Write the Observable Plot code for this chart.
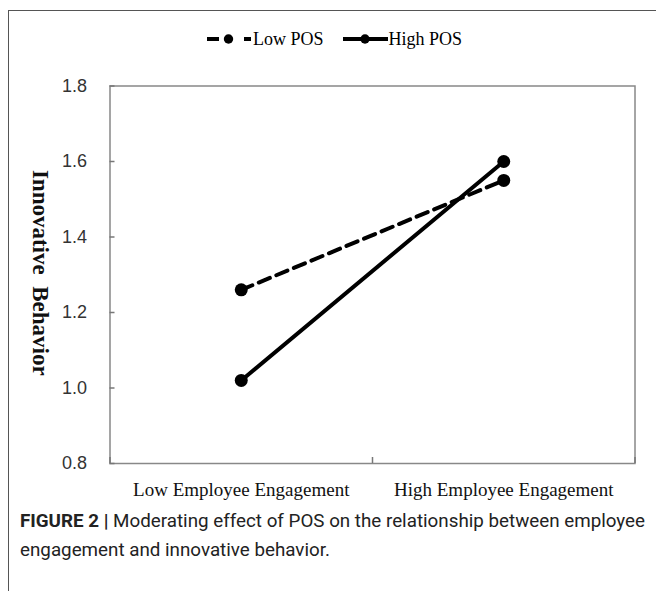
<!DOCTYPE html>
<html><head><meta charset="utf-8">
<script src="https://cdn.jsdelivr.net/npm/d3@7"></script>
<script src="https://cdn.jsdelivr.net/npm/@observablehq/plot@0.6"></script>
<style>
body{margin:0;background:#fff;}
#wrap{position:relative;width:656px;height:591px;overflow:hidden;background:#fff;}
#frame{position:absolute;left:8px;top:10px;width:700px;height:640px;border-left:1.5px solid #555;border-top:1.5px solid #555;}
#legend{position:absolute;left:0;top:26px;}
#chart{position:absolute;left:0;top:60px;}
#caption{position:absolute;left:20px;top:507px;width:634px;font-family:Roboto,"Liberation Sans",sans-serif;font-size:18.8px;line-height:29px;color:#222;white-space:nowrap;}
#caption b{font-weight:bold;}
</style></head>
<body><div id="wrap"><div id="frame"></div><div id="legend"></div><div id="chart"></div><div id="caption"></div></div>
<script>
const categories = ["Low Employee Engagement", "High Employee Engagement"];
const seriesNames = ["Low POS", "High POS"];
const lowPOS = [1.26, 1.55];
const highPOS = [1.02, 1.60];
const yTicks = [0.8, 1.0, 1.2, 1.4, 1.6, 1.8];
const captionBold = "FIGURE 2 |";
const captionLine1 = " Moderating effect of POS on the relationship between employee";
const captionLine2 = "engagement and innovative behavior.";
const yTitle = "Innovative\u00a0 Behavior";

const lowRows = lowPOS.map((v, i) => ({series: seriesNames[0], i, value: v}));
const highRows = highPOS.map((v, i) => ({series: seriesNames[1], i, value: v}));
const rows = lowRows.concat(highRows);
const xOf = d => d.i + 0.5;

const chart = Plot.plot({
  width: 656,
  height: 450,
  marginLeft: 109.5,
  marginRight: 21.5,
  marginTop: 25.5,
  marginBottom: 47,
  style: {background: "transparent", overflow: "visible"},
  x: {domain: [0, categories.length], label: null},
  y: {domain: [0.8, 1.8], label: null},
  marks: [
    Plot.frame({stroke: "#888", strokeWidth: 1.5}),
    Plot.axisY({ticks: yTicks, tickSize: 0, tickPadding: 23, tickFormat: d => d.toFixed(1), label: null,
      fontFamily: "Liberation Sans", fontSize: 18, fill: "#333", letterSpacing: "1px"}),
    Plot.axisY({ticks: yTicks, tickSize: -5, tickFormat: () => "", label: null, stroke: "#777", strokeWidth: 1.5}),
    Plot.axisX({ticks: categories.map((c, i) => i + 0.5), tickSize: 0, tickPadding: 18.5, label: null,
      tickFormat: d => categories[Math.floor(d)], fontFamily: "Liberation Serif", fontSize: 19, fill: "#111"}),
    Plot.axisX({ticks: d3.range(categories.length + 1), tickSize: -6, tickFormat: () => "", label: null, stroke: "#777", strokeWidth: 1.5}),
    Plot.line(lowRows, {x: xOf, y: "value", stroke: "black", strokeWidth: 4, strokeDasharray: "12,7"}),
    Plot.line(highRows, {x: xOf, y: "value", stroke: "black", strokeWidth: 4}),
    Plot.dot(rows, {x: xOf, y: "value", r: 6.5, fill: "black"}),
    Plot.text([yTitle], {frameAnchor: "left", textAnchor: "middle", dx: -69.5, dy: -2, rotate: 90,
      fontFamily: "Liberation Serif", fontWeight: "bold", fontSize: 23, fill: "#111"})
  ]
});
document.getElementById("chart").appendChild(chart);

// Legend
const lg = d3.create("svg").attr("width", 656).attr("height", 26);
const cy = 13;
lg.append("line").attr("x1", 207).attr("x2", 219).attr("y1", cy).attr("y2", cy).attr("stroke", "black").attr("stroke-width", 4);
lg.append("circle").attr("cx", 228.5).attr("cy", cy).attr("r", 4.7).attr("fill", "black");
lg.append("line").attr("x1", 244).attr("x2", 251).attr("y1", cy).attr("y2", cy).attr("stroke", "black").attr("stroke-width", 4);
lg.append("text").attr("x", 253).attr("y", cy).attr("dy", "0.35em").attr("font-family", "Liberation Serif").attr("font-size", 18).text(seriesNames[0]);
lg.append("line").attr("x1", 343).attr("x2", 388).attr("y1", cy).attr("y2", cy).attr("stroke", "black").attr("stroke-width", 4);
lg.append("circle").attr("cx", 365).attr("cy", cy).attr("r", 4.7).attr("fill", "black");
lg.append("text").attr("x", 388.5).attr("y", cy).attr("dy", "0.35em").attr("font-family", "Liberation Serif").attr("font-size", 18).text(seriesNames[1]);
document.getElementById("legend").appendChild(lg.node());

// Caption
const cap = document.getElementById("caption");
const l1 = document.createElement("div");
const b = document.createElement("b"); b.textContent = captionBold;
l1.appendChild(b);
l1.appendChild(document.createTextNode(captionLine1));
const l2 = document.createElement("div");
l2.textContent = captionLine2;
cap.appendChild(l1);
cap.appendChild(l2);
</script>
</body></html>
